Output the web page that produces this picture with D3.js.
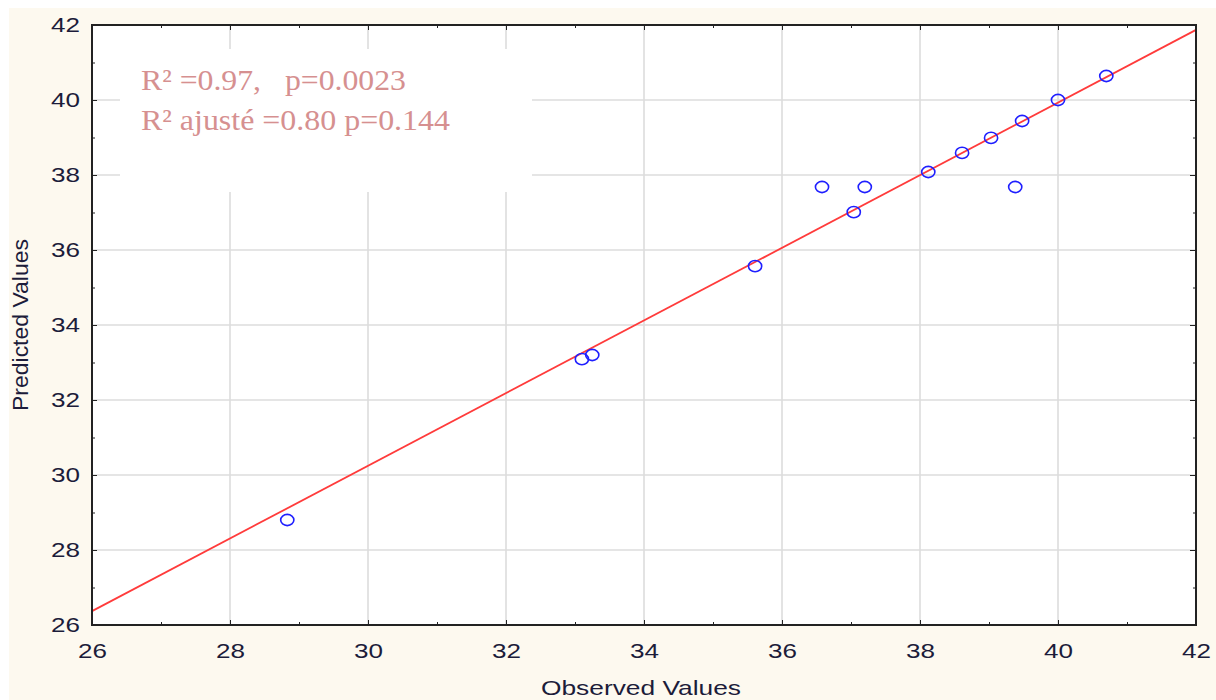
<!DOCTYPE html>
<html>
<head>
<meta charset="utf-8">
<script src="https://cdn.jsdelivr.net/npm/d3@7"></script>
<style>
  html, body { margin: 0; padding: 0; background: #ffffff; }
  svg { display: block; }
</style>
</head>
<body>
<div id="chart"></div>
<script>
// Observed vs predicted values
var observed  = [28.83, 33.10, 33.25, 35.61, 36.58, 37.20, 37.04, 38.12, 38.61, 39.03, 39.38, 39.48, 40.00, 40.70];
var predicted = [28.80, 33.09, 33.20, 35.57, 37.68, 37.68, 37.01, 38.08, 38.59, 38.99, 37.68, 39.44, 40.00, 40.64];

// fitted line end points (x, y)
var fitX = [26, 42];
var fitY = [26.37, 41.87];

var majorTicks = [26, 28, 30, 32, 34, 36, 38, 40, 42];
var minorTicks = [27, 29, 31, 33, 35, 37, 39, 41];

var noteLines = ["R\u00B2 =0.97,   p=0.0023", "R\u00B2 ajust\u00E9 =0.80 p=0.144"];
var noteWidths = [265, 309];

var width = 1216, height = 700;
var margin = {top: 25, right: 20, bottom: 75, left: 92};
var plotW = 1196 - margin.left, plotH = 625 - margin.top;

var svg = d3.select("#chart").append("svg")
    .attr("width", width)
    .attr("height", height);

// cream page background
svg.append("rect")
    .attr("x", 9).attr("y", 8)
    .attr("width", width - 9).attr("height", height - 8)
    .attr("fill", "#fdf9ef");

var g = svg.append("g")
    .attr("transform", "translate(" + margin.left + "," + margin.top + ")");

var x = d3.scaleLinear().domain([26, 42]).range([0, plotW]);
var y = d3.scaleLinear().domain([26, 42]).range([plotH, 0]);

g.append("rect")
    .attr("width", plotW).attr("height", plotH)
    .attr("fill", "#ffffff");

// grid
g.append("g").selectAll("line").data(majorTicks.slice(1, -1)).join("line")
    .attr("x1", d => x(d)).attr("x2", d => x(d))
    .attr("y1", 0).attr("y2", plotH)
    .attr("stroke", "#dcdcdc").attr("stroke-width", 1.6);
g.append("g").selectAll("line").data(majorTicks.slice(1, -1)).join("line")
    .attr("y1", d => y(d)).attr("y2", d => y(d))
    .attr("x1", 0).attr("x2", plotW)
    .attr("stroke", "#dcdcdc").attr("stroke-width", 1.6);

// white note box covering the grid
g.append("rect")
    .attr("x", 120 - margin.left).attr("y", 49 - margin.top)
    .attr("width", 412).attr("height", 143)
    .attr("fill", "#ffffff");

// fitted line
g.append("line")
    .attr("x1", x(fitX[0])).attr("y1", y(fitY[0]))
    .attr("x2", x(fitX[1])).attr("y2", y(fitY[1]))
    .attr("stroke", "#ff3b3b").attr("stroke-width", 1.8);

// points (the source picture is stretched sideways, so the rings are a bit wide)
g.append("g").selectAll("ellipse").data(observed).join("ellipse")
    .attr("cx", d => x(d))
    .attr("cy", (d, i) => y(predicted[i]))
    .attr("rx", 6.6)
    .attr("ry", 5.6)
    .attr("fill", "none")
    .attr("stroke", "#1f1fff")
    .attr("stroke-width", 1.6);

// axes: labels on bottom/left, inward ticks on all four sides
function styleAxis(sel) {
    sel.select(".domain").remove();
    sel.selectAll(".tick line").attr("stroke", "#222");
    sel.selectAll(".tick text")
        .attr("fill", "#1c1c3a")
        .attr("textLength", 29)
        .attr("lengthAdjust", "spacingAndGlyphs")
        .style("font-family", "Arial, 'Liberation Sans', sans-serif")
        .style("font-size", "21px");
}

g.append("g")
    .attr("transform", "translate(0," + plotH + ")")
    .call(d3.axisBottom(x).tickValues(majorTicks).tickSize(-5).tickPadding(18).tickFormat(d3.format("d")))
    .call(styleAxis);
g.append("g")
    .call(d3.axisLeft(y).tickValues(majorTicks).tickSize(-5).tickPadding(12).tickFormat(d3.format("d")))
    .call(styleAxis);
g.append("g")
    .call(d3.axisTop(x).tickValues(majorTicks).tickSize(-5).tickFormat(""))
    .call(styleAxis);
g.append("g")
    .attr("transform", "translate(" + plotW + ",0)")
    .call(d3.axisRight(y).tickValues(majorTicks).tickSize(-6).tickFormat(""))
    .call(styleAxis);

// minor ticks
g.append("g").call(d3.axisBottom(x).tickValues(minorTicks).tickSize(-3).tickFormat(""))
    .attr("transform", "translate(0," + plotH + ")").call(styleAxis);
g.append("g").call(d3.axisTop(x).tickValues(minorTicks).tickSize(-3).tickFormat("")).call(styleAxis);
g.append("g").call(d3.axisLeft(y).tickValues(minorTicks).tickSize(-3).tickFormat("")).call(styleAxis);
g.append("g").call(d3.axisRight(y).tickValues(minorTicks).tickSize(-3).tickFormat(""))
    .attr("transform", "translate(" + plotW + ",0)").call(styleAxis);

// frame
g.append("rect")
    .attr("width", plotW).attr("height", plotH)
    .attr("fill", "none")
    .attr("stroke", "#222")
    .attr("stroke-width", 2);

// note text
g.append("g").selectAll("text").data(noteLines).join("text")
    .attr("x", 141 - margin.left)
    .attr("y", (d, i) => 90 - margin.top + i * 40)
    .attr("fill", "#d69090")
    .attr("textLength", (d, i) => noteWidths[i])
    .attr("lengthAdjust", "spacingAndGlyphs")
    .style("font-family", "'Liberation Serif', 'Times New Roman', serif")
    .style("font-size", "30px")
    .style("white-space", "pre")
    .text(d => d);

// axis titles
svg.append("text")
    .attr("x", margin.left + plotW / 2 - 3).attr("y", 695)
    .attr("text-anchor", "middle")
    .attr("fill", "#1c1c3a")
    .attr("textLength", 200)
    .attr("lengthAdjust", "spacingAndGlyphs")
    .style("font-family", "Arial, 'Liberation Sans', sans-serif")
    .style("font-size", "21px")
    .text("Observed Values");

svg.append("text")
    .attr("transform", "translate(28," + (margin.top + plotH / 2) + ") rotate(-90)")
    .attr("text-anchor", "middle")
    .attr("fill", "#1c1c3a")
    .attr("textLength", 172)
    .attr("lengthAdjust", "spacingAndGlyphs")
    .style("font-family", "Arial, 'Liberation Sans', sans-serif")
    .style("font-size", "22px")
    .text("Predicted Values");
</script>
</body>
</html>
